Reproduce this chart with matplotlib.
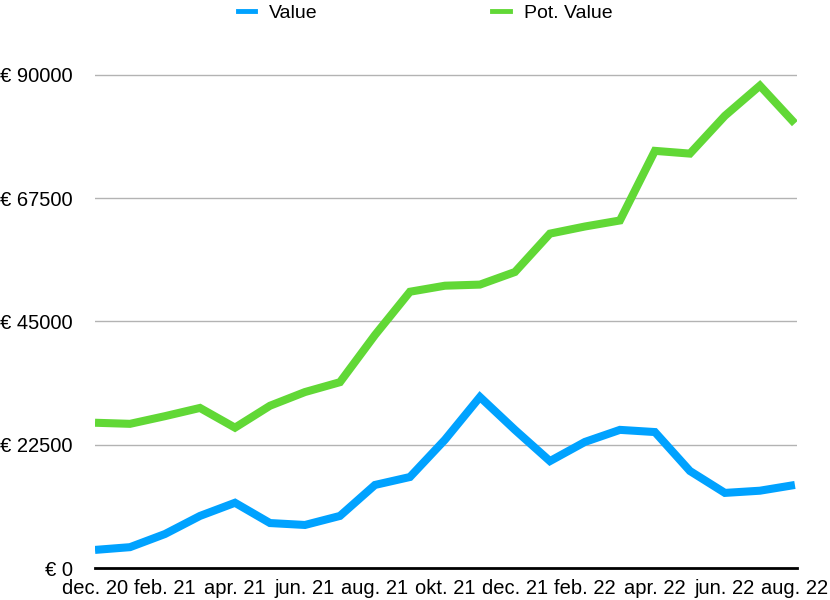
import numpy as np
import matplotlib.pyplot as plt
from matplotlib.lines import Line2D

# Data
months = ["dec. 20", "jan. 21", "feb. 21", "mar. 21", "apr. 21", "may. 21", "jun. 21",
          "jul. 21", "aug. 21", "sep. 21", "okt. 21", "nov. 21", "dec. 21", "jan. 22",
          "feb. 22", "mar. 22", "apr. 22", "may. 22", "jun. 22", "jul. 22", "aug. 22"]
value = [3300, 3800, 6200, 9500, 11900, 8200, 7850, 9500, 15150, 16600, 23400,
         31200, 25200, 19500, 23000, 25200, 24800, 17700, 13700, 14100, 15150]
pot_value = [26500, 26300, 27700, 29200, 25600, 29600, 32100, 33900, 42500, 50400,
             51500, 51700, 54000, 61000, 62300, 63400, 76100, 75600, 82500, 88000, 81100]
yticks = [0, 22500, 45000, 67500, 90000]

blue = "#00A2FF"
green = "#61D836"

plt.rcParams['font.family'] = ['Liberation Sans', 'DejaVu Sans']

fig = plt.figure(figsize=(8.3, 6), dpi=100)
ax = fig.add_axes([95/830, 32/600, 702/830, 518/600])

x = np.arange(len(months))
ax.plot(x, value, color=blue, lw=5.8, solid_joinstyle='miter', solid_capstyle='butt')
ax.plot(x, pot_value, color=green, lw=5.8, solid_joinstyle='miter', solid_capstyle='butt')

ax.set_xlim(0, len(months) - 1 + 0.06)
ax.set_ylim(0, 94500)

ax.set_yticks(yticks)
ax.set_yticklabels([f"€ {v}" for v in yticks], fontsize=14.5)
ax.set_xticks(x[::2])
ax.set_xticklabels(months[::2], fontsize=14.5)
ax.tick_params(length=0)
ax.tick_params(axis='x', pad=8)
ax.tick_params(axis='y', pad=16)

for v in yticks[1:]:
    ax.axhline(v, color="#b3b3b3", lw=1, zorder=0)

for s in ["top", "right", "left"]:
    ax.spines[s].set_visible(False)
ax.spines["bottom"].set_linewidth(2)
ax.spines["bottom"].set_color("black")

handles = [Line2D([], [], color=blue, lw=3.5), Line2D([], [], color=green, lw=3.5)]
fig.legend(handles, ["Value", "Pot. Value"], loc="upper center", bbox_to_anchor=(0.512, 1.022),
           ncol=2, frameon=False, fontsize=14, handlelength=0.9, columnspacing=9,
           handletextpad=0.7)

fig.savefig("out.png", dpi=100)
